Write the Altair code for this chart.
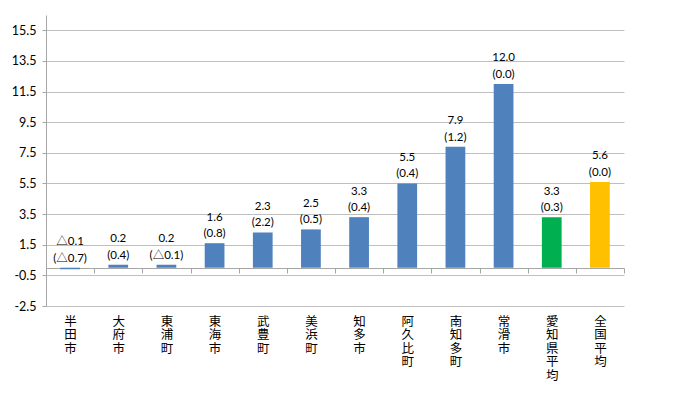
import altair as alt
import pandas as pd

categories = ["半田市", "大府市", "東浦町", "東海市", "武豊町", "美浜町", "知多市",
              "阿久比町", "南知多町", "常滑市", "愛知県平均", "全国平均"]
values = [-0.1, 0.2, 0.2, 1.6, 2.3, 2.5, 3.3, 5.5, 7.9, 12.0, 3.3, 5.6]
changes = [-0.7, 0.4, -0.1, 0.8, 2.2, 0.5, 0.4, 0.4, 1.2, 0.0, 0.3, 0.0]
groups = ["市町"] * 10 + ["愛知県平均", "全国平均"]
group_domain = ["市町", "愛知県平均", "全国平均"]
group_colors = ["#4F81BD", "#00B050", "#FFC000"]
y_ticks = [-2.5, -0.5, 1.5, 3.5, 5.5, 7.5, 9.5, 11.5, 13.5, 15.5]


def fmt(v):
    s = f"{abs(v):.1f}"
    return ("△" + s) if v < 0 else s


line1 = [fmt(v) for v in values]
line2 = [f"({fmt(c)})" for c in changes]

df = pd.DataFrame({"category": categories, "value": values,
                   "line1": line1, "line2": line2, "group": groups})

NUM_FONT = "Lato, Noto Sans CJK JP"
GRID = "#BFBFBF"
AXIS = "#A6A6A6"

x_enc = alt.X(
    "category:N", sort=categories,
    scale=alt.Scale(paddingInner=0, paddingOuter=0),
    axis=alt.Axis(title=None, offset=-38, domainColor=AXIS, tickColor=AXIS,
                  tickSize=5, tickBand="extent", labelAngle=0,
                  labelBaseline="top", labelAlign="center", labelPadding=42,
                  labelExpr="split(datum.label, '')", labelLineHeight=13.5,
                  labelFont="Noto Sans CJK JP", labelFontSize=12.5,
                  labelColor="#000000"),
)

y_scale = alt.Scale(domain=[-2.5, 16.5], nice=False, zero=False)
y_axis = alt.Axis(title=None, values=y_ticks, grid=True,
                  gridColor=GRID, domainColor=AXIS, tickColor=AXIS,
                  tickSize=4, labelPadding=6, labelFont=NUM_FONT,
                  labelFontSize=12.5, labelColor="#000000",
                  labelExpr="replace(format(datum.value, '.1f'), '\u2212', '-')")

bars = alt.Chart(df).mark_bar(
    width=alt.RelativeBandSize(0.41)
).encode(
    x=x_enc,
    y=alt.Y("value:Q", scale=y_scale, axis=y_axis),
    color=alt.Color("group:N",
                    scale=alt.Scale(domain=group_domain, range=group_colors),
                    legend=None),
)

base_text = alt.Chart(df).transform_calculate(
    ly="max(datum.value, 0)"
)

text1 = base_text.mark_text(
    baseline="bottom", dy=-20.5, fontSize=11.5,
    font=NUM_FONT, color="#000000"
).encode(
    x=alt.X("category:N", sort=categories),
    y=alt.Y("ly:Q", scale=y_scale, axis=y_axis),
    text="line1:N",
)

text2 = base_text.mark_text(
    baseline="bottom", dy=-4, fontSize=11.5,
    font=NUM_FONT, color="#000000"
).encode(
    x=alt.X("category:N", sort=categories),
    y=alt.Y("ly:Q", scale=y_scale, axis=y_axis),
    text="line2:N",
)

chart = alt.layer(bars, text1, text2).properties(
    width=578, height=291,
    autosize=alt.AutoSizeParams(type="none"),
    padding={"left": 38, "top": 7, "right": 60, "bottom": 100},
).configure_view(stroke=None)

chart.save("out.html", embed_options={"renderer": "svg", "actions": False})
